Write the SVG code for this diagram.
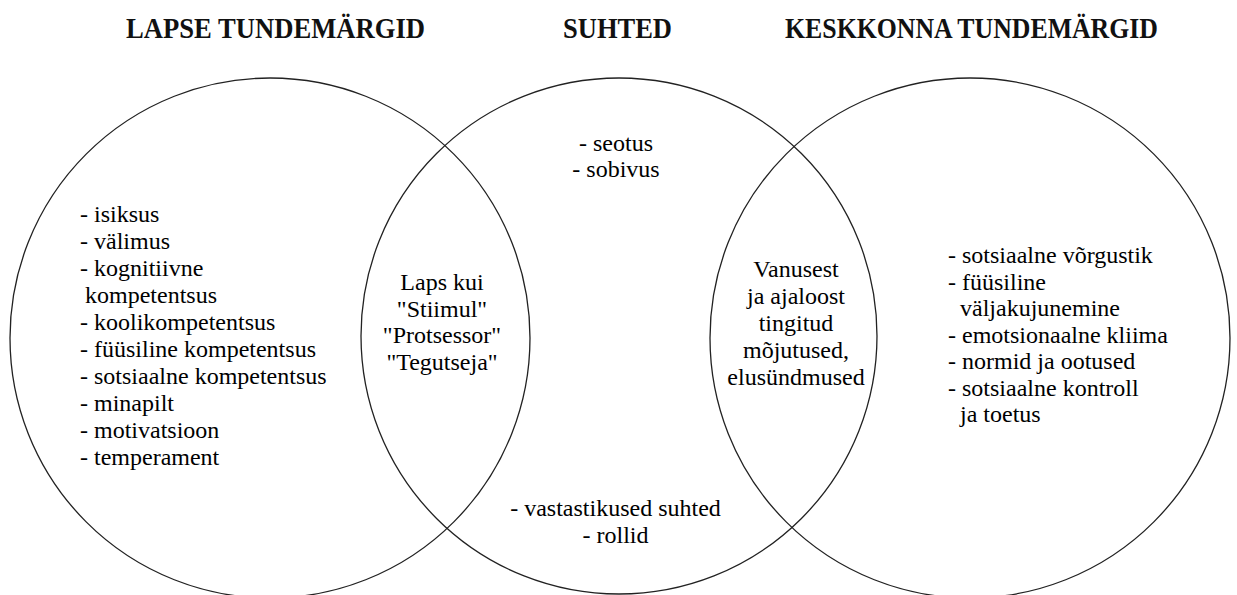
<svg xmlns="http://www.w3.org/2000/svg" width="1237" height="595" viewBox="0 0 1237 595">
<style>
.c{fill:none;stroke:#222;stroke-width:1.3}
</style>
<rect width="1237" height="595" fill="#fff"/>
<g id="titles" font-family="Liberation Serif, serif" font-size="29" font-weight="bold" fill="#111" text-anchor="middle">
<text x="275.5" y="38" textLength="299" lengthAdjust="spacingAndGlyphs">LAPSE TUNDEMÄRGID</text>
<text x="617.5" y="38" textLength="109" lengthAdjust="spacingAndGlyphs">SUHTED</text>
<text x="971.5" y="38" textLength="373" lengthAdjust="spacingAndGlyphs">KESKKONNA TUNDEMÄRGID</text>
</g>
<g id="circle-left"><circle class="c" cx="270" cy="338" r="260"/></g>
<g id="circle-middle"><circle class="c" cx="619" cy="336" r="258"/></g>
<g id="circle-right"><circle class="c" cx="970" cy="338" r="260"/></g>
<g id="list-left" font-family="Liberation Serif, serif" font-size="24" fill="#000">
<text x="80" y="222">- isiksus</text>
<text x="80" y="249">- välimus</text>
<text x="80" y="276">- kognitiivne</text>
<text x="85" y="303">kompetentsus</text>
<text x="80" y="330">- koolikompetentsus</text>
<text x="80" y="357">- füüsiline kompetentsus</text>
<text x="80" y="384">- sotsiaalne kompetentsus</text>
<text x="80" y="411">- minapilt</text>
<text x="80" y="438">- motivatsioon</text>
<text x="80" y="465">- temperament</text>
</g>
<g id="overlap-left" font-family="Liberation Serif, serif" font-size="24" fill="#000" text-anchor="middle">
<text x="442" y="290">Laps kui</text>
<text x="442" y="316.5">"Stiimul"</text>
<text x="442" y="343">"Protsessor"</text>
<text x="442" y="369.5">"Tegutseja"</text>
</g>
<g id="middle-top" font-family="Liberation Serif, serif" font-size="24" fill="#000" text-anchor="middle">
<text x="616" y="151">- seotus</text>
<text x="616" y="177">- sobivus</text>
</g>
<g id="middle-bottom" font-family="Liberation Serif, serif" font-size="24" fill="#000" text-anchor="middle">
<text x="615.5" y="516">- vastastikused suhted</text>
<text x="615.5" y="543">- rollid</text>
</g>
<g id="overlap-right" font-family="Liberation Serif, serif" font-size="24" fill="#000" text-anchor="middle">
<text x="796" y="277">Vanusest</text>
<text x="796" y="304">ja ajaloost</text>
<text x="796" y="331">tingitud</text>
<text x="796" y="358">mõjutused,</text>
<text x="796" y="385">elusündmused</text>
</g>
<g id="list-right" font-family="Liberation Serif, serif" font-size="24" fill="#000">
<text x="948" y="263">- sotsiaalne võrgustik</text>
<text x="948" y="289.5">- füüsiline</text>
<text x="960" y="316">väljakujunemine</text>
<text x="948" y="342.5">- emotsionaalne kliima</text>
<text x="948" y="369">- normid ja ootused</text>
<text x="948" y="395.5">- sotsiaalne kontroll</text>
<text x="960" y="422">ja toetus</text>
</g>
<g id="connectors"></g>
</svg>
